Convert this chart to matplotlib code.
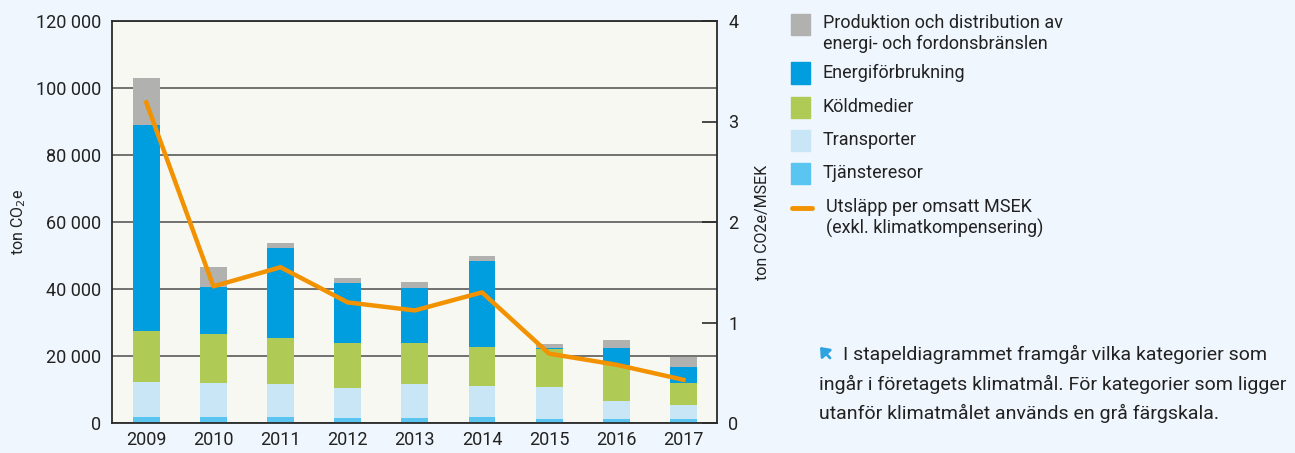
import numpy as np
import matplotlib
matplotlib.use("Agg")
import matplotlib.pyplot as plt
from matplotlib.patches import Rectangle, FancyArrowPatch
from matplotlib.lines import Line2D
from matplotlib.ticker import FuncFormatter

plt.rcParams['font.family'] = ['Roboto', 'DejaVu Sans']

# data
years = ['2009', '2010', '2011', '2012', '2013', '2014', '2015', '2016', '2017']
tjansteresor = [1800, 1800, 1800, 1500, 1500, 1800, 1200, 1200, 1200]
transporter_top = [12200, 11900, 11600, 10400, 11600, 11000, 10700, 6600, 5400]
koldmedier_top = [27500, 26600, 25400, 23900, 23900, 22700, 22000, 17300, 11900]
energi_top = [89000, 40600, 52200, 41800, 40300, 48400, 22300, 22400, 16700]
produktion_top = [103000, 46600, 53700, 43300, 42100, 49900, 23600, 24800, 19700]
per_msek = [3.19, 1.36, 1.55, 1.20, 1.12, 1.30, 0.69, 0.58, 0.43]

# segments from cumulative tops
tops = [tjansteresor, transporter_top, koldmedier_top, energi_top, produktion_top]
colors = ['#5BC5F1', '#C8E6F6', '#AFCA55', '#009DDF', '#B1B1B0']
labels = ['Tjänsteresor', 'Transporter', 'Köldmedier', 'Energiförbrukning',
          'Produktion och distribution av\nenergi- och fordonsbränslen']

W, H = 1295, 453
fig = plt.figure(figsize=(W / 100, H / 100), dpi=100)
fig.patch.set_facecolor('#EFF6FD')

ax = fig.add_axes([112 / W, 1 - 423 / H, (717 - 112) / W, (423 - 21) / H])
ax.set_facecolor('#F8F8F3')
x = np.arange(len(years))
bottom = np.zeros(len(years))
for t, c in zip(tops, colors):
    t = np.array(t, dtype=float)
    ax.bar(x, t - bottom, bottom=bottom, width=0.4, color=c, zorder=2)
    bottom = t

ax.set_xlim(-0.51, 8.5)
ax.set_ylim(0, 120000)
ax.set_yticks(np.arange(0, 120001, 20000))
ax.yaxis.set_major_formatter(FuncFormatter(lambda v, p: f'{int(v):,}'.replace(',', ' ')))
ax.set_xticks(x)
ax.set_xticklabels(years)
ax.tick_params(axis='both', length=0, labelsize=13, colors='#222222')
ax.tick_params(axis='y', pad=8)
ax.tick_params(axis='x', pad=6)
ax.grid(axis='y', color='#4D4D4D', lw=1.1, zorder=1)
ax.set_axisbelow(True)
for s in ax.spines.values():
    s.set_color('#2A2A2A')
    s.set_linewidth(1.3)
ymid = 0.5 * (1 - 423 / H) + 0.5 * (1 - 21 / H)
ax.set_ylabel('ton CO$_2$e', fontsize=11.5, color='#222222')
ax.yaxis.set_label_coords(28 / W, ymid, transform=fig.transFigure)

ax2 = ax.twinx()
ax2.plot(x, per_msek, color='#F39200', lw=3.2, zorder=5)
ax2.set_ylim(0, 4)
ax2.set_yticks([0, 1, 2, 3, 4])
ax2.tick_params(axis='y', direction='in', length=11, width=1.2, color='#2A2A2A',
                labelsize=13, labelcolor='#222222', pad=8)
for s in ax2.spines.values():
    s.set_visible(False)
ax2.set_ylabel('ton CO2e/MSEK', fontsize=11.5, color='#222222')
ax2.yaxis.set_label_coords(755 / W, ymid, transform=fig.transFigure)

# legend drawn by hand
leg_items = [
    (labels[4], colors[4], 24.5),
    (labels[3], colors[3], 73),
    (labels[2], colors[2], 107),
    (labels[1], colors[1], 140),
    (labels[0], colors[0], 173),
]
for i, (lab, c, yc) in enumerate(leg_items):
    fig.add_artist(Rectangle((791 / W, 1 - (yc + 10.5) / H), 19 / W, 21 / H,
                             color=c, transform=fig.transFigure))
    yt = 33.5 if i == 0 else yc
    fig.text(823 / W, 1 - yt / H, lab, fontsize=13, color='#222222',
             va='center', ha='left', linespacing=1.15)
fig.add_artist(Line2D([792 / W, 812 / W], [1 - 208 / H, 1 - 208 / H], color='#F39200',
                      lw=3.5, solid_capstyle='round', transform=fig.transFigure))
fig.text(826 / W, 1 - 218 / H, 'Utsläpp per omsatt MSEK\n(exkl. klimatkompensering)',
         fontsize=13, color='#222222', va='center', ha='left', linespacing=1.15)

# note
fig.add_artist(FancyArrowPatch((830 / W, 1 - 358 / H), (820 / W, 1 - 347 / H),
                               arrowstyle='-|>,head_length=0.5,head_width=0.4',
                               mutation_scale=10, lw=2.0, shrinkA=0, shrinkB=0,
                               color='#2FA3E0', transform=fig.transFigure))
note_kw = dict(fontsize=14, color='#222222', va='center', ha='left')
fig.text(843 / W, 1 - 354 / H, 'I stapeldiagrammet framgår vilka kategorier som', **note_kw)
fig.text(819 / W, 1 - 384 / H, 'ingår i företagets klimatmål. För kategorier som ligger', **note_kw)
fig.text(819 / W, 1 - 413 / H, 'utanför klimatmålet används en grå färgskala.', **note_kw)

fig.savefig('out.png', dpi=100, facecolor=fig.get_facecolor())
